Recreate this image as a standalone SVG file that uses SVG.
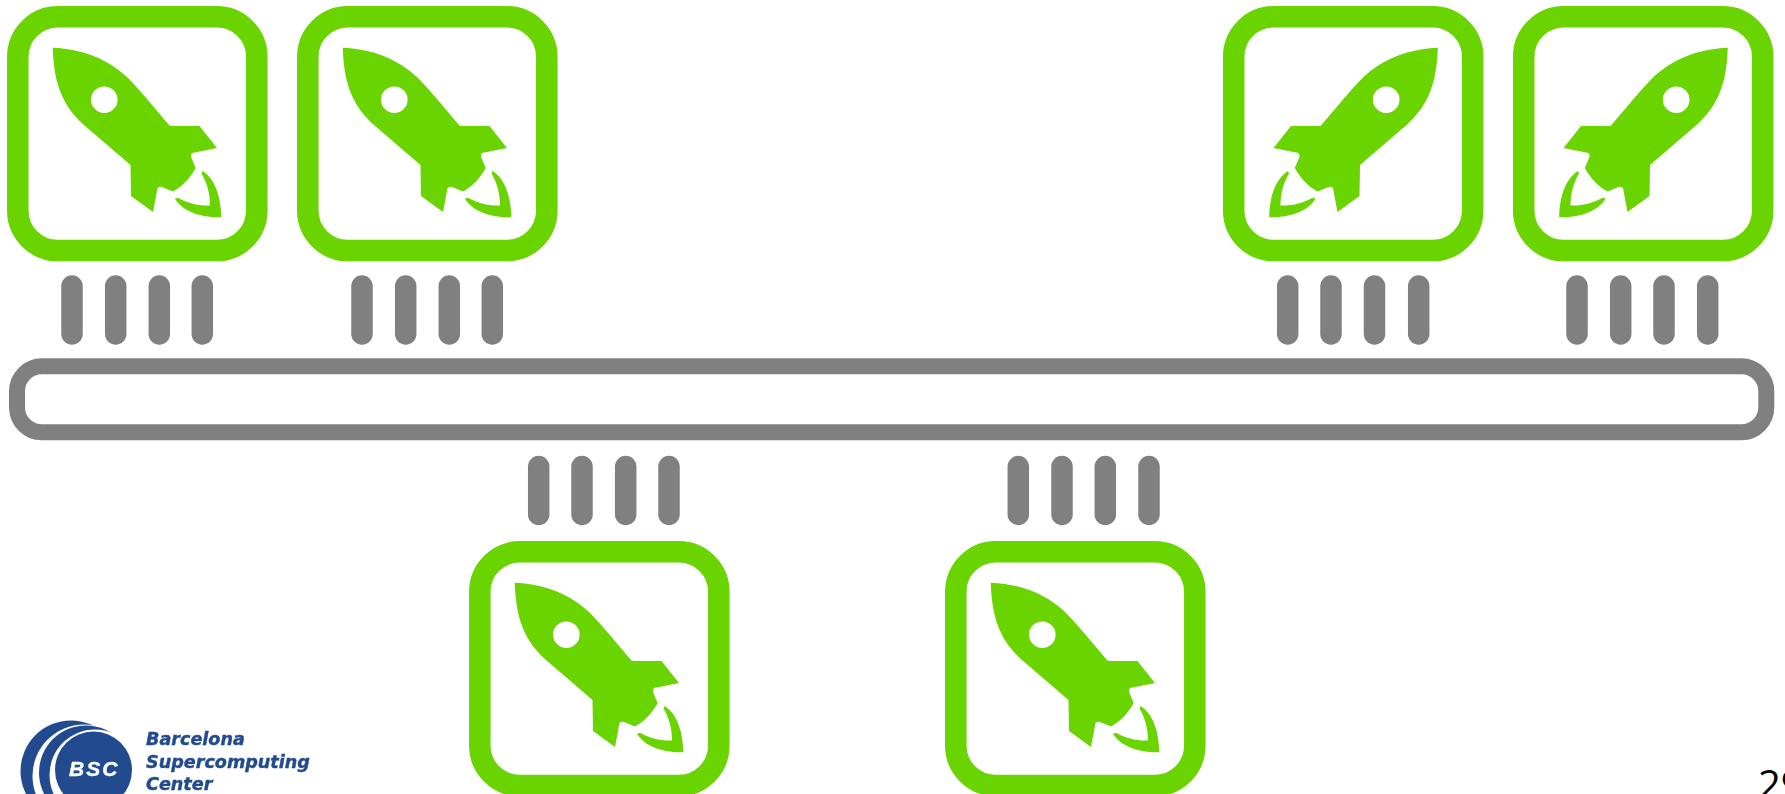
<svg xmlns="http://www.w3.org/2000/svg" width="1785" height="794" viewBox="0 0 1785 794">
<style>
.frame{fill:#fff;stroke:#69d400;stroke-width:21.5}
.rocket{fill:#69d400;fill-rule:evenodd}
.pin{stroke:#808080;stroke-width:21.5;stroke-linecap:round;fill:none}
.bus{fill:#fff;stroke:#808080;stroke-width:16}
.logo{fill:#214b8f;stroke:#214b8f;stroke-width:0.4;font-family:"DejaVu Sans",sans-serif;font-weight:700;font-style:italic;font-size:17.6px}
.page{fill:#000;font-family:"Open Sans",sans-serif;font-size:40px}
</style>
<defs>
<g id="chip">
<rect class="frame" x="17.8" y="16.8" width="239" height="233.8" rx="40" ry="40"/>
<path class="rocket" d="M52.7 47.7C84 49 109 60 127 77C141 91 156 110 170 126L199.5 126L217 148L192 153Q190.5 155 191 157L195.7 168C190 178 183 186 173 191.5L162 187Q159 186 157.5 188L153 212L131 196L130.5 165L84 125C63 106 54 85 52.7 47.7ZM117.6 99.7A13.3 13.3 0 1 0 91 99.7A13.3 13.3 0 1 0 117.6 99.7Z"/>
<path class="rocket" d="M202.5 171C214 178 221 195 221.3 217.3C207 217.5 186 215 175 199Q176 197.5 178.5 198C188 203 198 206 210 205.5C210 193 207 183 201.5 173.5Z"/>
</g>
<filter id="soft" x="-5%" y="-5%" width="110%" height="110%"><feGaussianBlur stdDeviation="0.6"/></filter>
</defs>
<rect width="1785" height="794" fill="#fff"/>
<g id="connectors">
<g class="pin">
<path d="M72 286V334M115.7 286V334M159.3 286V334M202.3 286V334"/>
<path d="M362 286V334M405.7 286V334M449.3 286V334M492.3 286V334"/>
<path d="M1287.7 286V334M1331 286V334M1374.5 286V334M1418.7 286V334"/>
<path d="M1577 286V334M1620.7 286V334M1664 286V334M1707.7 286V334"/>
<path d="M538.7 466.5V514.5M582 466.5V514.5M625.7 466.5V514.5M669 466.5V514.5"/>
<path d="M1018.3 466.5V514.5M1062 466.5V514.5M1105.3 466.5V514.5M1149 466.5V514.5"/>
</g>
</g>
<g id="bus"><rect class="bus" x="17" y="366.3" width="1749.3" height="66" rx="25" ry="25"/></g>
<g id="chip-1"><use href="#chip"/></g>
<g id="chip-2"><use href="#chip" transform="translate(290 0)"/></g>
<g id="chip-3"><use href="#chip" transform="translate(1490.5 0) scale(-1 1)"/></g>
<g id="chip-4"><use href="#chip" transform="translate(1780.5 0) scale(-1 1)"/></g>
<g id="chip-5"><use href="#chip" transform="translate(462 535)"/></g>
<g id="chip-6"><use href="#chip" transform="translate(938 535)"/></g>
<g id="bsc-logo" filter="url(#soft)">
<circle cx="71" cy="771" r="50.5" fill="#214b8f"/>
<circle cx="84" cy="776" r="51.5" fill="#fff"/>
<circle cx="86" cy="772.5" r="47" fill="#214b8f"/>
<circle cx="95" cy="775" r="45.5" fill="#fff"/>
<circle cx="93.5" cy="770" r="38.5" fill="#214b8f"/>
<text x="69" y="776" fill="#fff" stroke="#fff" stroke-width="0.4" font-family="Liberation Sans, sans-serif" font-weight="700" font-style="italic" font-size="21" letter-spacing="2">BSC</text>
<text class="logo" x="146" y="745">Barcelona</text>
<text class="logo" x="146" y="768">Supercomputing</text>
<text class="logo" x="146" y="790">Center</text>
</g>
<text id="page-number" class="page" x="1758" y="799">29</text>
</svg>
